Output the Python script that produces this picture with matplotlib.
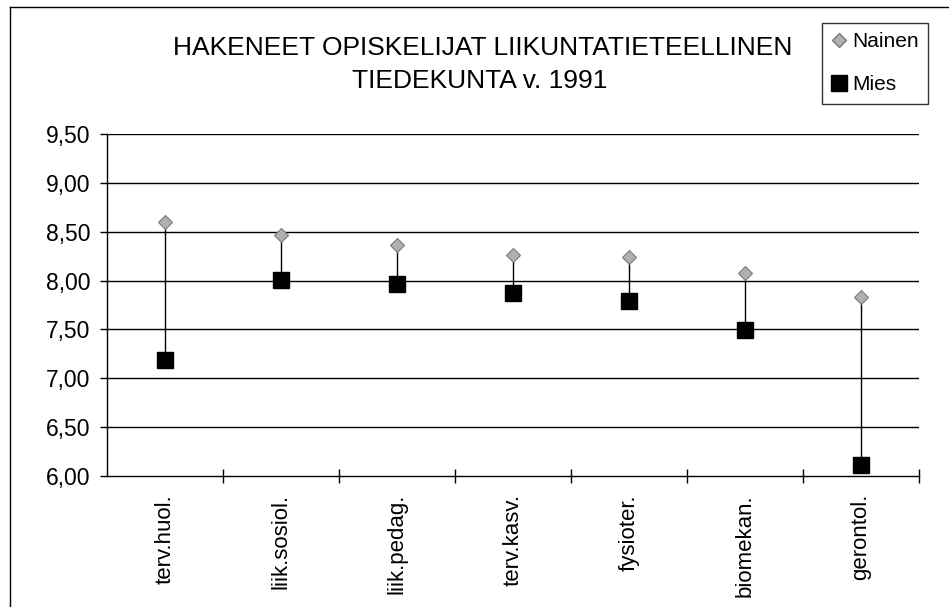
import matplotlib
matplotlib.use("Agg")
import matplotlib.pyplot as plt
from matplotlib.lines import Line2D

# tiedot
kategoriat = ["terv.huol.", "liik.sosiol.", "liik.pedag.", "terv.kasv.",
              "fysioter.", "biomekan.", "gerontol."]
nainen = [8.60, 8.47, 8.36, 8.26, 8.24, 8.08, 7.83]
mies = [7.19, 8.01, 7.96, 7.87, 7.79, 7.49, 6.11]
yticks = [6.0, 6.5, 7.0, 7.5, 8.0, 8.5, 9.0, 9.5]
ytick_labels = ["6,00", "6,50", "7,00", "7,50", "8,00", "8,50", "9,00", "9,50"]

plt.rcParams['font.family'] = ['Liberation Sans', 'DejaVu Sans']

fig = plt.figure(figsize=(9.49, 6.07), dpi=100)
ax = fig.add_axes([0.1127, 0.2158, 0.9684 - 0.1127, 0.7792 - 0.2158])

x = list(range(len(kategoriat)))

# hi-lo viivat
ax.vlines(x, mies, nainen, color='black', linewidth=1.0, zorder=2)

# ruudukko
for y in yticks[1:]:
    ax.axhline(y, color='black', linewidth=1.0, zorder=1)

ax.plot(x, nainen, linestyle='none', marker='D', markersize=7,
        markerfacecolor='#b0b0b0', markeredgecolor='#7a7a7a',
        markeredgewidth=0.8, zorder=3)
ax.plot(x, mies, linestyle='none', marker='s', markersize=11,
        markerfacecolor='black', markeredgecolor='black', zorder=3)

ax.set_xlim(-0.5, len(kategoriat) - 0.5)
ax.set_ylim(6.0, 9.5)
ax.set_yticks(yticks)
ax.set_yticklabels(ytick_labels, fontsize=16.5)
ax.tick_params(axis='y', direction='out', length=5, width=1, pad=7)

# x-akselin merkit luokkien rajoilla
ax.set_xticks([i + 0.5 for i in x], minor=False)
ax.set_xticklabels([])
ax.tick_params(axis='x', direction='inout', length=9.5, width=1)
ax.set_xticks(x, minor=True)
ax.set_xticklabels(kategoriat, minor=True, rotation=90, fontsize=16)
ax.tick_params(axis='x', which='minor', length=0, pad=13)

for s in ['top', 'right']:
    ax.spines[s].set_visible(False)
ax.spines['left'].set_linewidth(1)
ax.spines['bottom'].set_linewidth(1)

fig.text(483 / 949, 1 - 48 / 607, "HAKENEET OPISKELIJAT LIIKUNTATIETEELLINEN",
         ha='center', va='center', fontsize=19)
fig.text(480 / 949, 1 - 81 / 607, "TIEDEKUNTA v. 1991",
         ha='center', va='center', fontsize=19)

handles = [
    Line2D([], [], linestyle='none', marker='D', markersize=7,
           markerfacecolor='#b0b0b0', markeredgecolor='#7a7a7a'),
    Line2D([], [], linestyle='none', marker='s', markersize=11,
           markerfacecolor='black', markeredgecolor='black'),
]
leg = fig.legend(handles, ["Nainen", "Mies"], loc='upper left',
                 bbox_to_anchor=(822 / 949, 1 - 23 / 607), fontsize=15,
                 frameon=True, fancybox=False, handlelength=0.7,
                 handletextpad=0.3, borderpad=0.45, labelspacing=1.15,
                 borderaxespad=0)
leg.get_frame().set_edgecolor('black')
leg.get_frame().set_linewidth(1)

# kehys
fig.add_artist(Line2D([10 / 949, 10 / 949], [0, 1 - 7 / 607], color='black',
                      linewidth=1, transform=fig.transFigure))
fig.add_artist(Line2D([10 / 949, 1], [1 - 7 / 607, 1 - 7 / 607], color='black',
                      linewidth=1, transform=fig.transFigure))

fig.savefig("out.png", dpi=100)
